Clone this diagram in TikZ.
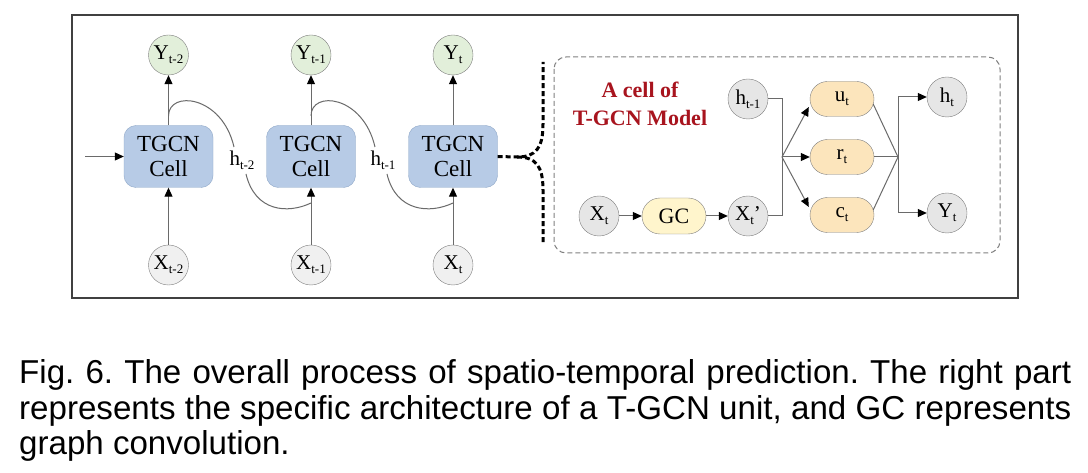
\documentclass[tikz,border=0pt]{standalone}
\usepackage{fontspec}
\setmainfont{Liberation Serif}
\newfontfamily\capfont{Liberation Sans}
\usetikzlibrary{arrows.meta,calc,shapes.misc}
\definecolor{ygreen}{HTML}{E2EFDA}
\definecolor{xgray}{HTML}{F0F0F0}
\definecolor{rgray}{HTML}{E6E6E6}
\definecolor{boxblue}{HTML}{B7CBE6}
\definecolor{boxedge}{HTML}{8FA8C8}
\definecolor{gcyel}{HTML}{FFF5CC}
\definecolor{gateor}{HTML}{FCE5BC}
\definecolor{lineg}{HTML}{6A6A6A}
\definecolor{circg}{HTML}{808080}
\definecolor{titlered}{HTML}{A8141E}
\newcommand{\sbs}[1]{\raisebox{-0.4ex}{\fontsize{13}{13}\selectfont #1}}
\frenchspacing
\tikzset{
  ln/.style={draw=lineg, line width=1pt},
  arr/.style={ln, -{Triangle[length=9pt,width=8pt,color=black]}},
  ycirc/.style={circle, draw=circg, fill=ygreen, minimum size=40pt, inner sep=0pt, font=\fontsize{21}{21}\selectfont},
  xcirc/.style={circle, draw=circg, fill=xgray, minimum size=40pt, inner sep=0pt, font=\fontsize{21}{21}\selectfont},
  rcirc/.style={circle, draw=circg, fill=rgray, minimum size=40pt, inner sep=0pt, font=\fontsize{21}{21}\selectfont},
  cellbox/.style={rectangle, rounded corners=12pt, draw=boxedge, fill=boxblue, minimum width=89pt, minimum height=62pt, inner sep=0pt, align=center, font=\fontsize{23}{25}\selectfont},
  gcbox/.style={rounded rectangle, draw=circg, fill=gcyel, minimum width=64pt, minimum height=36pt, inner sep=0pt, font=\fontsize{22}{22}\selectfont},
  gatebox/.style={rounded rectangle, draw=circg, fill=gateor, minimum width=64pt, minimum height=35pt, inner sep=0pt, font=\fontsize{21}{21}\selectfont},
  hlabel/.style={inner sep=0pt, font=\fontsize{21}{21}\selectfont},
  bracepath/.style={draw=black, line width=3pt, dash pattern=on 5pt off 3pt},
  capline/.style={anchor=base west, inner sep=0pt, font=\capfont\frenchspacing\fontsize{33.1}{35}\selectfont}
}
\begin{document}
\begin{tikzpicture}[x=1pt,y=-1pt]
\useasboundingbox (0,0) rectangle (1088,473);
\fill[white] (0,0) rectangle (1088,473);
% outer frame
\draw[draw=black!75, line width=1.5pt] (72,15) rectangle (1018,298);
% left chain
\node[cellbox] (c1) at (168.5,156.5) {TGCN\\Cell};
\node[cellbox] (c2) at (311,156.5) {TGCN\\Cell};
\node[cellbox] (c3) at (453,156.5) {TGCN\\Cell};
\node[ycirc] (y1) at (168.5,55) {Y\sbs{t-2}};
\node[ycirc] (y2) at (311,55) {Y\sbs{t-1}};
\node[ycirc] (y3) at (453,55) {Y\sbs{t}};
\node[xcirc] (x1) at (168.5,265) {X\sbs{t-2}};
\node[xcirc] (x2) at (311,265) {X\sbs{t-1}};
\node[xcirc] (x3) at (453,265) {X\sbs{t}};
\coordinate (in0) at (85,156.5);
\draw[arr] (in0) -- (c1.west);
\foreach \i in {1,2,3}{
  \draw[arr] (c\i.north) -- (y\i.south);
  \draw[arr] (x\i.north) -- (c\i.south);
}
% recurrent hidden states
\node[hlabel] (h1) at (242,160) {h\sbs{t-2}};
\node[hlabel] (h2) at (383,160) {h\sbs{t-1}};
\coordinate (r1s) at (168.5,116);
\coordinate (r1a) at (234,147);
\coordinate (r1b) at (246,174);
\coordinate (r1e) at (311,203);
\coordinate (r2s) at (311,116);
\coordinate (r2a) at (375,147);
\coordinate (r2b) at (387,174);
\coordinate (r2e) at (453,203);
\draw[ln] (r1s) .. controls (168.5,90) and (222,95) .. (r1a);
\draw[ln] (r1b) .. controls (255,212) and (288,214) .. (r1e);
\draw[ln] (r2s) .. controls (311,90) and (363,95) .. (r2a);
\draw[ln] (r2b) .. controls (396,212) and (430,214) .. (r2e);
% brace
\coordinate (bt) at (517,157);
\coordinate (btop) at (543,62);
\coordinate (bbot) at (543,244);
\draw[bracepath] (c3.east) -- (bt) .. controls (536,157) and (543,148) .. (543,124) -- (btop);
\draw[bracepath] (bt) .. controls (536,157) and (543,166) .. (543,190) -- (bbot);
% dashed cell box
\draw[draw=circg, line width=1pt, dash pattern=on 5pt off 3pt, rounded corners=12pt] (554,57) rectangle (1000,253);
\node[align=center, text=titlered, font=\bfseries\fontsize{22}{28}\selectfont] (title) at (640,104) {A cell of\\T-GCN Model};
% cell internals
\node[rcirc] (hp) at (748,99) {h\sbs{t-1}};
\node[rcirc] (xt) at (599,216) {X\sbs{t}};
\node[gcbox] (gc) at (674,216) {GC};
\node[rcirc] (xp) at (748,216) {X\sbs{t}’};
\draw[arr] (xt.east) -- (gc.west);
\draw[arr] (gc.east) -- (xp.west);
\coordinate (sp) at (782,157);
\draw[ln] (hp.east) -| (sp);
\draw[ln] (xp.east) -| (sp);
\node[gatebox] (u) at (842,99) {u\sbs{t}};
\node[gatebox] (r) at (842,157) {r\sbs{t}};
\node[gatebox] (c) at (842,215) {c\sbs{t}};
\draw[arr] (sp) -- ($(u.west)+(-1,8)$);
\draw[arr] (sp) -- (r.west);
\draw[arr] (sp) -- ($(c.west)+(-1,-8)$);
\coordinate (mp) at (898,157);
\draw[ln] ($(u.east)+(-1,5)$) -- (mp);
\draw[ln] (r.east) -- (mp);
\draw[ln] ($(c.east)+(-1,-5)$) -- (mp);
\node[rcirc] (ht) at (947,97) {h\sbs{t}};
\node[rcirc] (yt) at (947,213) {Y\sbs{t}};
\draw[arr] (mp) |- (ht.west);
\draw[arr] (mp) |- (yt.west);
% caption
\node[capline] (cap1) at (19,384) {\makebox[1052pt][s]{Fig. 6. The overall process of spatio-temporal prediction. The right part}};
\node[capline] (cap2) at (19,419) {\makebox[1052pt][s]{represents the specific architecture of a T-GCN unit, and GC represents}};
\node[capline] (cap3) at (19,454) {graph convolution.};
\end{tikzpicture}
\end{document}
